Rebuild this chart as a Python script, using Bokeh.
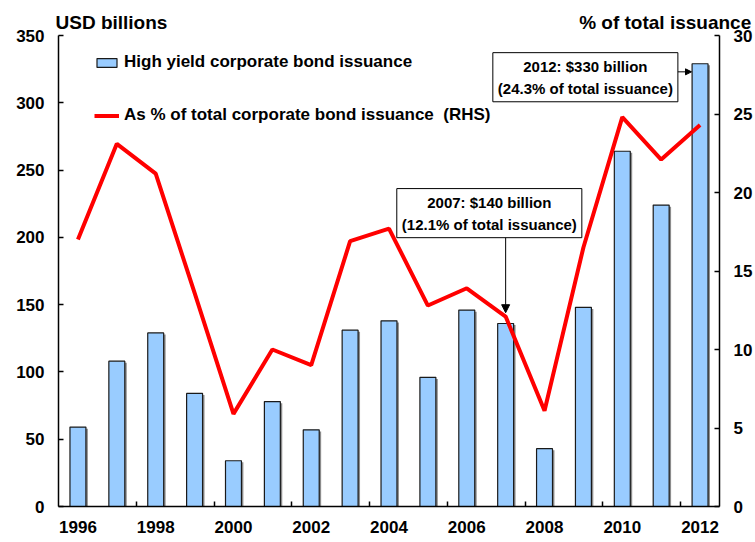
from bokeh.plotting import figure
from bokeh.models import (Range1d, LinearAxis, FixedTicker, Label, Arrow, NormalHead,
                          Legend, LegendItem, ColumnDataSource, Title)
from bokeh.embed import file_html
from bokeh.resources import INLINE

# ---- data ----
years = list(range(1996, 2013))
hy_issuance = [59, 108, 129, 84, 34, 78, 57, 131, 138, 96, 146, 136, 43, 148, 264, 224, 329]
pct_total = [17.0, 23.1, 21.2, 13.6, 5.9, 10.0, 9.0, 16.9, 17.7, 12.8, 13.9, 12.1, 6.1, 16.5, 24.8, 22.1, 24.3]
x_label_years = [1996, 1998, 2000, 2002, 2004, 2006, 2008, 2010, 2012]
left_ticks = [0, 50, 100, 150, 200, 250, 300, 350]
right_ticks = [0, 5, 10, 15, 20, 25, 30]
left_title = "USD billions"
right_title = "% of total issuance"
bar_label = "High yield corporate bond issuance"
line_label = "As % of total corporate bond issuance  (RHS)"
note_2007 = "2007: $140 billion\n(12.1% of total issuance)"
note_2012 = "2012: $330 billion\n(24.3% of total issuance)"

FONT = "Liberation Sans"
BAR_W = 0.41

src = ColumnDataSource(dict(year=years, hy=hy_issuance, pct=pct_total,
                            sx=[y + 0.05 for y in years],
                            stop=[v - 1.2 for v in hy_issuance]))

p = figure(width=755, height=542, x_range=Range1d(1995.5, 2012.5), y_range=Range1d(0, 350),
           output_backend="svg", toolbar_location=None, x_axis_type=None, y_axis_type=None,
           min_border_left=58, min_border_right=35, min_border_top=35, min_border_bottom=36)
p.outline_line_color = None
p.background_fill_color = "white"
p.extra_y_ranges = {"pct": Range1d(0, 30)}

def style_axis(ax):
    ax.axis_line_color = "black"
    ax.axis_line_width = 1.5
    ax.major_label_text_font = FONT
    ax.major_label_text_font_style = "bold"
    ax.major_label_text_font_size = "17px"
    ax.major_label_text_color = "black"
    ax.major_tick_in = 5
    ax.major_tick_out = 0
    ax.major_tick_line_color = "black"
    ax.major_tick_line_width = 1.5
    ax.minor_tick_line_color = None

xaxis = LinearAxis(ticker=FixedTicker(ticks=x_label_years,
                                      minor_ticks=[y + 1.5 for y in x_label_years[:-1]]))
style_axis(xaxis)
xaxis.major_tick_line_color = None
xaxis.minor_tick_line_color = "black"
xaxis.minor_tick_line_width = 1.5
xaxis.minor_tick_in = 5
xaxis.minor_tick_out = 0
xaxis.major_label_standoff = 14
p.add_layout(xaxis, "below")

yleft = LinearAxis(ticker=FixedTicker(ticks=left_ticks))
style_axis(yleft)
yleft.major_label_standoff = 14
p.add_layout(yleft, "left")

yright = LinearAxis(y_range_name="pct", ticker=FixedTicker(ticks=right_ticks))
style_axis(yright)
yright.major_label_standoff = 14
p.add_layout(yright, "right")

p.vbar(x="sx", top="stop", width=BAR_W, bottom=0, source=src,
       fill_color="#8c8c8c", line_color=None)
r_bar = p.vbar(x="year", top="hy", width=BAR_W, bottom=0, source=src,
               fill_color="#99CCFF", line_color="#1a1a1a", line_width=1.2)
r_line = p.line(x="year", y="pct", source=src, y_range_name="pct",
                line_color="#FF0000", line_width=4)

legend = Legend(items=[LegendItem(label=bar_label, renderers=[r_bar]),
                       LegendItem(label=line_label, renderers=[r_line])],
                location=(36, 381), glyph_width=25, glyph_height=11, label_standoff=5,
                spacing=33, padding=0, margin=0, border_line_color=None,
                background_fill_alpha=0, label_text_font=FONT, label_text_font_style="bold",
                label_text_font_size="17px", label_text_color="black")
p.add_layout(legend)

# arrows (drawn before boxes so boxes cover their start)
p.add_layout(Arrow(end=NormalHead(size=8, fill_color="black", line_color="black"),
                   x_start=2007, y_start=205, x_end=2007, y_end=144,
                   line_color="black", line_width=1))
p.add_layout(Arrow(end=NormalHead(size=6, fill_color="black", line_color="black"),
                   x_start=2011.1, y_start=323, x_end=2011.78, y_end=323,
                   line_color="black", line_width=1))

for (bx, by, txt) in [(2006.58, 218, note_2007), (2009.05, 319, note_2012)]:
    p.add_layout(Label(x=bx, y=by, text=txt, text_align="center", text_baseline="middle",
                       text_font=FONT, text_font_style="bold", text_font_size="15px",
                       text_color="black", text_line_height=1.3,
                       border_line_color="black", border_line_width=1,
                       background_fill_color="white", padding=5))

# axis titles share one header line: left title, gap, right title
gap = "\u00a0" * 78
p.add_layout(Title(text=left_title + gap + right_title, align="left", offset=-3,
                   standoff=5, text_font=FONT, text_font_style="bold",
                   text_font_size="19px", text_color="black"), "above")

open("out.html", "w").write(file_html(p, INLINE))
